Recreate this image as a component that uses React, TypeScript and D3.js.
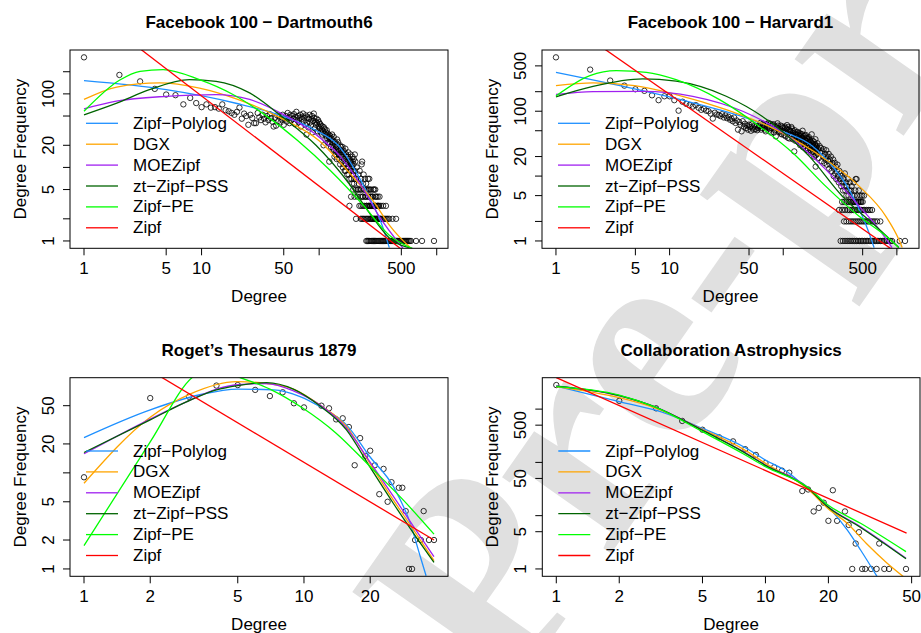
import React from 'react';
import * as d3 from 'd3';

type Pt = [number, number];

const SERIES = ['Zipf−Polylog', 'DGX', 'MOEZipf', 'zt−Zipf−PSS', 'Zipf−PE', 'Zipf'];
const COLORS = ['#1E90FF', '#FFA500', '#A020F0', '#006400', '#00FF00', '#FF0000'];

// ---- Facebook 100 - Dartmouth6 ----
// frequency of degrees 1..130
const dartFreq = [
  314, 181, 148, 117, 98, 96, 72, 88, 75, 66,
  72, 65, 66, 63, 72, 60, 58, 55, 52, 57,
  65, 46, 54, 50, 38, 52, 47, 40, 40, 55,
  48, 44, 52, 46, 41, 50, 44, 53, 47, 42,
  36, 47, 37, 51, 43, 49, 41, 45, 52, 38,
  46, 50, 42, 55, 48, 40, 52, 44, 50, 46,
  53, 39, 48, 57, 44, 50, 41, 47, 52, 36,
  45, 49, 54, 42, 47, 38, 51, 28, 40, 48,
  35, 46, 52, 41, 37, 45, 50, 30, 43, 54,
  47, 34, 42, 38, 46, 40, 31, 44, 36, 41,
  34, 39, 30, 37, 33, 28, 36, 31, 20, 35,
  29, 33, 24, 30, 27, 32, 25, 29, 22, 28,
  26, 12, 21, 27, 24, 19, 25, 22, 28, 20,
];
const dartMore: Pt[] = [
  [131, 18], [132, 23], [133, 26], [134, 17], [135, 14], [136, 21], [137, 22], [138, 15], [139, 17], [140, 19],
  [141, 13], [142, 24], [143, 20], [144, 16], [145, 22], [146, 18], [147, 15], [148, 13], [149, 17], [150, 20],
  [151, 11], [152, 15], [153, 19], [154, 17], [155, 14], [156, 12], [157, 16], [158, 19], [159, 10], [160, 14],
  [161, 17], [162, 11], [163, 13], [164, 16], [165, 9], [166, 13], [167, 18], [168, 9], [169, 11], [170, 15],
  [171, 14], [172, 12], [173, 8], [174, 10], [175, 12], [176, 14], [177, 16], [178, 8], [179, 10], [180, 11],
  [181, 7], [182, 13], [183, 12], [184, 9], [185, 15], [186, 12], [187, 9], [188, 7], [189, 11], [190, 10],
  [191, 6], [192, 14], [193, 12], [194, 8], [195, 9], [196, 11], [197, 13], [198, 6], [199, 7], [200, 9],
  [201, 15], [203, 12], [206, 7], [209, 10], [212, 5], [215, 8], [218, 6], [221, 9], [224, 5], [227, 7],
  [230, 11], [232, 12], [233, 4], [236, 6], [239, 8], [242, 5], [245, 7], [248, 4], [251, 6], [254, 3],
  [257, 5], [260, 7], [263, 4], [266, 3], [267, 7], [269, 5], [272, 3], [275, 4], [278, 2], [281, 3],
  [284, 4], [287, 2], [290, 3], [294, 5], [298, 2], [302, 3], [306, 4], [310, 2], [314, 3], [318, 2],
  [322, 3], [326, 4], [330, 2],
];
const dartOnes = [252, 258, 264, 270, 277, 283, 290, 296, 303, 310, 317, 324, 331, 338, 346, 353, 361, 369, 377, 385,
  393, 402, 410, 419, 428, 437, 447, 456, 466, 476, 487, 497, 508, 519, 530, 542, 553, 565, 578, 590, 604, 667, 750, 948];
const dartTwos = [206, 226, 232, 238, 245, 252, 259, 266, 273, 281, 289, 297, 305, 314, 323, 332, 342, 352, 362, 372, 383, 394, 420, 451];
const dartThrees = [181, 220, 228, 236, 244, 253, 262, 271, 280, 290, 300, 311, 322, 335, 350, 370];
const dartFours = [187, 200, 212, 224, 236, 248, 260, 272, 285, 300, 315];
const dartFives = [195, 205, 216, 228, 240, 252, 264, 276, 288, 300];

const dartCurves: Pt[][] = [
  [[1, 151], [5, 114], [20, 74], [45, 52], [90, 33], [145, 20], [220, 7.2], [290, 3.0], [340, 1.7], [395, 0.81]],
  [[1, 84], [1.9, 124], [4.4, 141], [9.6, 120], [20, 85], [46, 48], [100, 23], [180, 8.5], [300, 3.2], [400, 1.6], [600, 0.8]],
  [[1, 62.6], [1.88, 79.5], [5, 92.7], [13.3, 98], [25.6, 84], [49, 53], [94, 28], [155, 13.5], [230, 5.5], [322, 2.2], [516, 0.8]],
  [[1, 52], [1.9, 75], [3.6, 114], [7.9, 156], [13.3, 148], [25.6, 103], [49, 48], [94, 20], [180, 6], [285, 2.1], [395, 1.1], [620, 0.79]],
  [[1, 58], [2, 153], [3, 203], [4.7, 214], [9.6, 156], [18.5, 98], [35, 51], [66, 23], [125, 9], [240, 3], [395, 1.2], [621, 0.79]],
  [[1, 1580], [1000, 0.33]],
];

// ---- Facebook 100 - Harvard1 ----
const harvFreq = [
  677, 438, 297, 248, 218, 206, 176, 148, 170, 170,
  148, 102, 140, 130, 124, 118, 124, 113, 105, 109,
  102, 100, 92, 77, 95, 89, 88, 84, 90, 80,
  86, 78, 82, 74, 77, 70, 80, 66, 72, 52,
  68, 62, 49, 70, 58, 64, 55, 60, 52, 62,
  57, 50, 63, 56, 52, 60, 53, 58, 51, 55,
];
const harvMore: Pt[] = [
  [61, 58], [62, 60], [63, 66], [64, 52], [65, 55], [66, 64], [67, 61], [68, 57], [69, 52], [70, 49],
  [71, 63], [72, 62], [73, 57], [74, 66], [75, 50], [76, 54], [77, 64], [78, 47], [79, 55], [80, 59],
  [81, 61], [82, 63], [83, 47], [84, 51], [85, 58], [86, 41], [87, 52], [88, 56], [89, 65], [90, 60],
  [91, 54], [92, 48], [93, 49], [94, 53], [95, 60], [96, 45], [97, 44], [98, 58], [99, 55], [100, 50],
  [101, 48], [102, 43], [103, 58], [104, 55], [105, 41], [106, 47], [107, 53], [108, 61], [109, 46], [110, 39],
  [111, 57], [112, 52], [113, 38], [114, 44], [115, 50], [116, 49], [117, 43], [118, 57], [119, 54], [120, 42],
  [121, 37], [122, 46], [123, 49], [124, 38], [125, 24], [126, 51], [127, 44], [128, 35], [129, 40], [130, 44],
  [131, 47], [132, 40], [133, 35], [134, 48], [135, 43], [136, 33], [137, 38], [138, 42], [139, 46], [140, 37],
  [141, 30], [142, 45], [143, 41], [144, 31], [145, 36], [146, 39], [147, 44], [148, 50], [149, 28], [150, 34],
  [151, 38], [152, 41], [153, 33], [154, 29], [155, 42], [156, 36], [157, 27], [158, 43], [159, 35], [160, 32],
  [161, 39], [162, 38], [163, 30], [164, 27], [165, 25], [166, 35], [167, 37], [168, 40], [169, 32], [170, 30],
  [171, 28], [172, 36], [173, 34], [174, 25], [175, 23], [176, 33], [177, 30], [178, 44], [179, 26], [180, 28],
  [181, 35], [182, 31], [183, 24], [184, 22], [185, 29], [186, 34], [187, 20], [188, 26], [189, 27], [190, 30],
  [191, 31], [192, 37], [193, 14], [194, 21], [195, 25], [196, 28], [197, 29], [198, 24], [199, 22], [200, 32],
  [203, 26], [206, 19], [209, 29], [212, 23], [215, 27], [218, 17], [221, 24], [224, 20], [227, 26], [230, 16],
  [233, 22], [236, 18], [239, 25], [242, 15], [245, 20], [248, 17], [251, 22], [254, 13], [257, 18], [260, 15],
  [263, 20], [266, 12], [269, 16], [272, 14], [275, 18], [278, 10], [281, 13], [284, 16], [287, 11], [290, 14],
  [293, 9], [296, 12], [300, 15], [304, 10], [308, 8], [312, 12], [316, 9], [320, 11], [324, 7], [328, 10],
  [332, 8], [336, 6], [340, 9], [344, 7], [348, 11], [352, 6], [356, 8], [360, 5], [365, 7], [370, 9],
  [375, 5], [380, 6], [385, 8], [390, 4], [395, 6], [400, 7], [406, 5], [412, 4], [418, 8], [424, 5],
  [430, 6], [434, 9], [436, 4], [442, 9], [448, 5], [455, 4], [462, 6], [470, 4], [478, 5], [486, 4],
  [495, 5], [514, 5],
];
const harvOnes = [320, 335, 350, 365, 380, 395, 410, 425, 440, 455, 470, 485, 500, 518, 536, 554, 572, 590, 610, 630,
  650, 672, 695, 718, 742, 766, 792, 820, 848, 876, 906, 1060, 1180];
const harvTwos = [343, 360, 378, 395, 412, 430, 448, 466, 485, 505, 525, 545, 565, 590, 615, 640, 670, 715];
const harvThrees = [310, 330, 350, 370, 385, 400, 415, 430, 445, 460, 475, 490, 505, 520, 540, 560, 580, 605];
const harvFours = [330, 345, 360, 375, 390, 405, 420, 440, 460, 480, 500];

const harvCurves: Pt[][] = [
  [[1, 398], [4.93, 221], [16, 135], [47, 79], [98, 49], [180, 29], [270, 14.3], [380, 6.2], [497, 2.4], [567, 1.35], [630, 0.79]],
  [[1, 248], [2.12, 273], [4.93, 248], [11.4, 181], [31.5, 106], [86, 52], [236, 18], [465, 7], [800, 2.4], [1040, 1.06], [1115, 0.79]],
  [[1, 181], [2.12, 201], [5.8, 203], [16, 170], [44, 100], [121, 36.7], [236, 12.7], [465, 3.45], [700, 1.5], [907, 0.79]],
  [[1, 167], [2.12, 242], [5.8, 315], [11.4, 290], [31.5, 170], [86, 58.8], [169, 20.3], [331, 4.9], [650, 1.7], [1040, 0.79]],
  [[1, 172], [1.99, 354], [3.4, 423], [6.25, 398], [11.4, 307], [27.5, 151], [61.5, 58.8], [121, 22.9], [236, 7], [465, 2.4], [800, 1.19], [1040, 0.79]],
  [[1, 3030], [1500, 0.4]],
];

// ---- Roget's Thesaurus 1879 ----
const rogetDeg = [1, 2, 3, 4, 5, 6, 7, 8, 9, 10, 12, 13, 14, 15, 16, 17, 18, 19, 20, 21, 22, 23, 24, 25, 27, 28, 29, 30, 31, 32, 34, 35, 37, 39];
const rogetFreq = [9, 60, 62, 81, 82, 73, 63, 69, 53, 48, 50, 47, 36, 37, 30, 12, 23, 15, 17, 12, 6, 11, 5, 8, 7, 7, 4, 1, 1, 2, 2, 4, 2, 2];

const rogetCurves: Pt[][] = [
  [[1, 23.3], [2, 45.3], [3.36, 65], [5, 74.5], [7.26, 73], [9.6, 62.3], [11.8, 49], [15.6, 31.6], [19.9, 14.8], [25.5, 7.2], [30.4, 3.0], [33.8, 1.34], [35.9, 0.85]],
  [[1, 7.8], [2, 38], [3.03, 66], [4.95, 89], [6.77, 85], [8.95, 74.5], [11.8, 51], [15.6, 30.4], [19.9, 12.6], [25.5, 5.2], [31.5, 2.55], [39, 1.22]],
  [[1, 15.8], [2, 36.3], [2.92, 54.8], [4, 74.5], [5, 82.6], [6.77, 85], [8.95, 71.5], [11.8, 51], [15.6, 29.2], [19.9, 13.1], [25.5, 5.7], [31.5, 2.76], [39, 1.34]],
  [[1, 16.3], [2, 35.6], [2.92, 54.8], [4, 73], [5, 81], [6.77, 87], [8.95, 74.5], [11.8, 49.9], [15.6, 28], [19.9, 11.6], [25.5, 4.8], [31.5, 2.35], [39, 1.17]],
  [[1, 1.75], [2, 21], [3.13, 100], [4, 125], [5.03, 100], [7, 74.5], [9.9, 47], [14, 25.9], [20, 11.6], [28.3, 5.2], [39, 2.3]],
  [[1, 300], [39, 2.0]],
];

// ---- Collaboration Astrophysics ----
const astroDeg = [1, 2, 3, 4, 5, 6, 7, 8, 9, 10, 11, 12, 13, 15, 16, 17, 18, 19, 20, 21, 22, 24, 25, 27, 28, 35, 26, 29, 30, 32, 34, 37, 39, 47];
const astroFreq = [2830, 1430, 1035, 600, 410, 296, 248, 177, 138, 97, 81, 70, 64, 29, 31, 12, 14, 17.5, 8, 30, 8, 12, 6.7, 3, 4.9, 3, 1, 1, 1, 1, 1, 1, 1, 1];

const astroCurves: Pt[][] = [
  [[1, 2712], [2, 1377], [3.15, 893], [5, 436], [7.86, 197], [10, 111], [12.7, 67], [15.8, 32.6], [19.9, 14.8], [24.6, 5.4], [28.5, 2.27], [34.2, 0.72]],
  [[1, 2650], [2, 1637], [3, 1035], [5, 418], [7.86, 176], [10, 96], [15.8, 32.6], [19.9, 13.7], [24.6, 7.2], [30.3, 3.03], [38.2, 1.28], [45.6, 0.72]],
  [[1, 2712], [2, 1786], [3, 1080], [5, 405], [7.86, 159], [10, 89.5], [15.8, 35], [19.9, 14.8], [28.5, 6.2], [47, 1.59]],
  [[1, 2712], [2, 1800], [3, 1085], [5, 400], [7.86, 156], [10, 88], [15.8, 34], [19.9, 14.5], [28.5, 6.0], [47, 1.55]],
  [[1, 2650], [2, 1840], [3, 1080], [5, 377], [7.86, 144], [10, 83], [15.8, 35], [19.9, 15.9], [28.5, 7.2], [47, 2.11]],
  [[1, 3900], [47.3, 4.7]],
];

const FONT = 'Liberation Sans, Arial, Helvetica, sans-serif';

const withFreq = (degs: number[], f: number): Pt[] => degs.map((d) => [d, f]);

const dartPoints: Pt[] = [
  ...dartFreq.map((f, i) => [i + 1, f] as Pt),
  ...dartMore,
  ...withFreq(dartOnes, 1), ...withFreq(dartTwos, 2), ...withFreq(dartThrees, 3),
  ...withFreq(dartFours, 4), ...withFreq(dartFives, 5),
];
const harvPoints: Pt[] = [
  ...harvFreq.map((f, i) => [i + 1, f] as Pt),
  ...harvMore,
  ...withFreq(harvOnes, 1), ...withFreq(harvTwos, 2), ...withFreq(harvThrees, 3), ...withFreq(harvFours, 4),
];
const rogetPoints: Pt[] = rogetDeg.map((d, i) => [d, rogetFreq[i]]);
const astroPoints: Pt[] = astroDeg.map((d, i) => [d, astroFreq[i]]);

// R style log range: data extent padded by 4% on each side
const logDomain = (vals: number[]): [number, number] => {
  const lo = Math.log10(d3.min(vals)!);
  const hi = Math.log10(d3.max(vals)!);
  const pad = (hi - lo) * 0.04;
  return [10 ** (lo - pad), 10 ** (hi + pad)];
};

interface Box { l: number; r: number; t: number; b: number }

interface PanelProps {
  id: string;
  title: string;
  box: Box;
  points: Pt[];
  curves: Pt[][];
  xTicks: number[];
  xLabels: number[];
  yTicks: number[];
  yLabels: number[];
}

const Panel: React.FC<PanelProps> = ({ id, title, box, points, curves, xTicks, xLabels, yTicks, yLabels }) => {
  const x = d3.scaleLog().domain(logDomain(points.map((p) => p[0]))).range([box.l, box.r]);
  const y = d3.scaleLog().domain(logDomain(points.map((p) => p[1]))).range([box.b, box.t]);
  const line = d3.line<Pt>().x((d) => x(d[0])).y((d) => y(d[1])).curve(d3.curveMonotoneX);
  const cx = (box.l + box.r) / 2;
  const cy = (box.t + box.b) / 2;

  return (
    <g fontFamily={FONT}>
      <defs>
        <clipPath id={id}>
          <rect x={box.l} y={box.t} width={box.r - box.l} height={box.b - box.t} />
        </clipPath>
      </defs>
      <text x={cx} y={box.t - 27.5} textAnchor="middle" dominantBaseline="central" fontSize={17} fontWeight="bold">
        {title}
      </text>

      <g clipPath={`url(#${id})`}>
        {points.map((p, i) => (
          <circle key={i} cx={x(p[0])} cy={y(p[1])} r={2.7} fill="none" stroke="#000" strokeWidth={0.8} />
        ))}
        {curves.map((c, i) => (
          <path key={i} d={line(c) || ''} fill="none" stroke={COLORS[i]} strokeWidth={1.3} />
        ))}
      </g>

      <rect x={box.l} y={box.t} width={box.r - box.l} height={box.b - box.t} fill="none" stroke="#000" strokeWidth={1} />

      {xTicks.map((t) => (
        <line key={t} x1={x(t)} x2={x(t)} y1={box.b} y2={box.b + 7} stroke="#000" />
      ))}
      {xLabels.map((t) => (
        <text key={t} x={x(t)} y={box.b + 20} textAnchor="middle" dominantBaseline="central" fontSize={17}>
          {t}
        </text>
      ))}
      {yTicks.map((t) => (
        <line key={t} x1={box.l - 7} x2={box.l} y1={y(t)} y2={y(t)} stroke="#000" />
      ))}
      {yLabels.map((t) => (
        <text key={t} transform={`translate(${box.l - 22},${y(t)}) rotate(-90)`} textAnchor="middle"
          dominantBaseline="central" fontSize={17}>
          {t}
        </text>
      ))}

      <text x={cx} y={box.b + 48} textAnchor="middle" dominantBaseline="central" fontSize={17}>Degree</text>
      <text transform={`translate(${box.l - 49.5},${cy}) rotate(-90)`} textAnchor="middle" dominantBaseline="central" fontSize={17}>
        Degree Frequency
      </text>

      {SERIES.map((s, i) => {
        const ly = box.t + 73.3 + i * 20.9;
        return (
          <g key={s}>
            <line x1={box.l + 16} x2={box.l + 48} y1={ly} y2={ly} stroke={COLORS[i]} strokeWidth={1.3} />
            <text x={box.l + 63} y={ly} dominantBaseline="central" fontSize={17}>{s}</text>
          </g>
        );
      })}
    </g>
  );
};

const App: React.FC = () => {
  return (
    <svg width={921} height={633} style={{ position: 'absolute', left: 0, top: 0, background: '#fff' }}>
      <text transform="translate(505,705) rotate(-55)" fontFamily="Liberation Serif, Times New Roman, serif"
        fontWeight="bold" fontSize={290} fill="#e0e0e0">
        Pre-proof
      </text>
      <Panel id="c1" title="Facebook 100 − Dartmouth6" box={{ l: 70, r: 448, t: 50, b: 248.3 }}
        points={dartPoints} curves={dartCurves}
        xTicks={[1, 5, 10, 50, 100, 500, 1000]} xLabels={[1, 5, 10, 50, 500]}
        yTicks={[1, 2, 5, 10, 20, 50, 100, 200]} yLabels={[1, 5, 20, 100]} />
      <Panel id="c2" title="Facebook 100 − Harvard1" box={{ l: 542, r: 919, t: 50, b: 248.3 }}
        points={harvPoints} curves={harvCurves}
        xTicks={[1, 5, 10, 50, 100, 500, 1000]} xLabels={[1, 5, 10, 50, 500]}
        yTicks={[1, 2, 5, 10, 20, 50, 100, 200, 500]} yLabels={[1, 5, 20, 100, 500]} />
      <Panel id="c3" title="Roget’s Thesaurus 1879" box={{ l: 70, r: 448, t: 377.7, b: 576.3 }}
        points={rogetPoints} curves={rogetCurves}
        xTicks={[1, 2, 5, 10, 20]} xLabels={[1, 2, 5, 10, 20]}
        yTicks={[1, 2, 5, 10, 20, 50]} yLabels={[1, 2, 5, 20, 50]} />
      <Panel id="c4" title="Collaboration Astrophysics" box={{ l: 542.3, r: 920, t: 377.7, b: 576.3 }}
        points={astroPoints} curves={astroCurves}
        xTicks={[1, 2, 5, 10, 20, 50]} xLabels={[1, 2, 5, 10, 20, 50]}
        yTicks={[1, 5, 10, 50, 100, 500, 1000]} yLabels={[1, 5, 50, 500]} />
    </svg>
  );
};

export default App;
